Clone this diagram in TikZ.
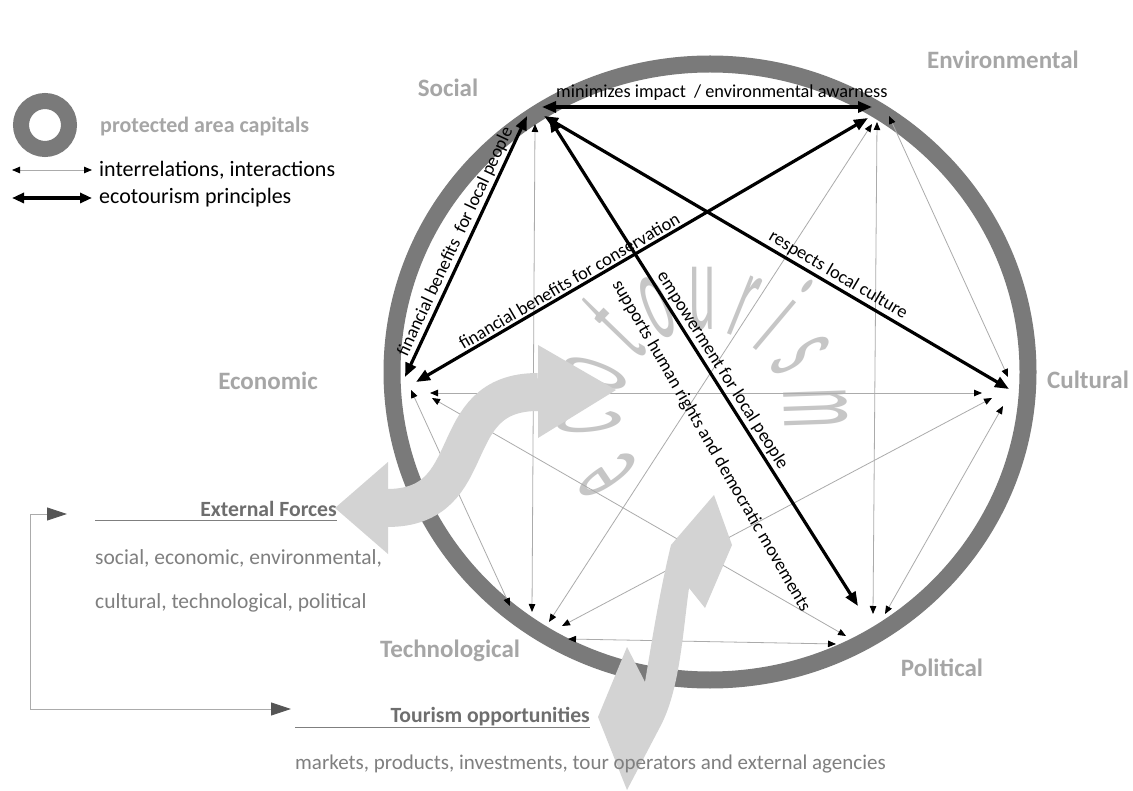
\documentclass[tikz,border=0pt]{standalone}
\usepackage{fontspec}
\setmainfont{Carlito}
\usetikzlibrary{arrows.meta}
\definecolor{ringgray}{HTML}{7A7A7A}
\definecolor{capgray}{HTML}{A6A6A6}
\definecolor{linegray}{HTML}{ABABAB}
\definecolor{bigarrow}{HTML}{D3D3D3}
\definecolor{wmgray}{HTML}{C6C6C6}
\definecolor{txtgray}{HTML}{7F7F7F}
\definecolor{titgray}{HTML}{6E6E6E}
\definecolor{headgray}{HTML}{555555}
\begin{document}
\begin{tikzpicture}[x=1pt,y=-1pt,
  thinrel/.style={draw=linegray, line width=0.8pt,
    {Triangle[length=8pt,width=6.5pt,color=black]}-{Triangle[length=8pt,width=6.5pt,color=black]}},
  thickpr/.style={draw=black, line width=3.2pt,
    {Triangle[length=14pt,width=11pt]}-{Triangle[length=14pt,width=11pt]}},
  capl/.style={font=\fontsize{25}{30}\selectfont\bfseries, text=capgray, inner sep=0pt},
  lbl/.style={font=\fontsize{18.3}{21}\selectfont, inner sep=2pt, sloped},
  legtxt/.style={font=\fontsize{22}{26}\selectfont, inner sep=0pt, anchor=west},
  bodytxt/.style={font=\fontsize{21.5}{26}\selectfont, text=txtgray, inner sep=0pt, anchor=base west},
  titletxt/.style={font=\fontsize{21.7}{26}\selectfont\bfseries, text=titgray, inner sep=0pt, anchor=base east},
  wm/.style={font=\fontsize{90}{100}\selectfont, text=wmgray, inner sep=0pt, anchor=base},
  bracket/.style={draw=linegray, line width=0.9pt,
    {Triangle[length=20pt,width=13pt,color=headgray]}-{Triangle[length=20pt,width=13pt,color=headgray]}}
]
\useasboundingbox (0,0) rectangle (1133,791);
\fill[white] (0,0) rectangle (1133,791);

% watermark "ecotourism" on an arc
\begin{scope}[shift={(702,412)}]
\foreach \ch/\ang [count=\k] in {e/214,c/186,o/160,t/136,o/113,u/90,r/68,i/50,s/30,m/2}
  \node[wm, rotate=\ang-90] (wm\k) at (-\ang:82) {\scalebox{0.55}[1.45]{\ch}};
\end{scope}

% protected area ring
\draw[ringgray, line width=17pt] (710,372) ellipse [x radius=318pt, y radius=308pt];

% endpoints
\coordinate (SE1) at (542,107);  \coordinate (SE2) at (872,107);
\coordinate (SEc1) at (527,116); \coordinate (SEc2) at (405,377);
\coordinate (EEc1) at (868,118); \coordinate (EEc2) at (416,382);
\coordinate (SC1) at (544,116);  \coordinate (SC2) at (1009,389);
\coordinate (SP1) at (549,118);  \coordinate (SP2) at (858,606);
\coordinate (ST1) at (535,124);  \coordinate (ST2) at (532,612);
\coordinate (EP1) at (877,122);  \coordinate (EP2) at (873,614);
\coordinate (EcC1) at (430,393); \coordinate (EcC2) at (982,393);
\coordinate (EC1) at (889,116);  \coordinate (EC2) at (1008,377);
\coordinate (CP1) at (1003,406); \coordinate (CP2) at (885,614);
\coordinate (CT1) at (992,398);  \coordinate (CT2) at (562,626);
\coordinate (ET1) at (872,124);  \coordinate (ET2) at (549,622);
\coordinate (EcP1) at (432,398); \coordinate (EcP2) at (846,636);
\coordinate (EcT1) at (411,390); \coordinate (EcT2) at (510,606);
\coordinate (TP1) at (568,639);  \coordinate (TP2) at (836,644);

% thin interrelations
\draw[thinrel] (ST1) -- (ST2);
\draw[thinrel] (EP1) -- (EP2);
\draw[thinrel] (EcC1) -- (EcC2);
\draw[thinrel] (EC1) -- (EC2);
\draw[thinrel] (CP1) -- (CP2);
\draw[thinrel] (CT1) -- (CT2);
\draw[thinrel] (ET1) -- (ET2);
\draw[thinrel] (EcP1) -- (EcP2);
\draw[thinrel] (EcT1) -- (EcT2);
\draw[thinrel] (TP1) -- (TP2);

% big light arrows
\draw[bigarrow, line width=38pt] (538,392) .. controls (440,392) and (485,508) .. (387,508);
\fill[bigarrow] (538,345) -- (616,390) -- (538,438) -- cycle;
\fill[bigarrow] (388,462) -- (335,508) -- (388,554) -- cycle;
\fill[bigarrow] (714,495) -- (732,545) -- (705,608) -- (689,588)
  .. controls (683,630) and (680,690) .. (660,727) -- (627,790) -- (598,717) -- (627,647) -- (645,682)
  .. controls (652,640) and (660,590) .. (671,545) -- cycle;

% ecotourism principles
\draw[thickpr] (SE1) -- node[lbl, pos=0.545, above=3pt] {minimizes impact\ \ / environmental awarness} (SE2);
\draw[thickpr] (SEc2) -- node[lbl, pos=0.5, above] {financial benefits\ \ for local people} (SEc1);
\draw[thickpr] (EEc2) -- node[lbl, pos=0.35, above] {financial benefits for conservation} (EEc1);
\draw[thickpr] (SC1) -- node[lbl, pos=0.62, above] {respects local culture} (SC2);
\draw[thickpr] (SP1) -- node[lbl, pos=0.53, above] {empowerment for local people} (SP2);
\node[font=\fontsize{18.3}{21}\selectfont, inner sep=0pt, rotate=-60] (hr) at (711,446) {supports human rights and democratic movements};

% capital labels
\node[capl] (social) at (448,88) {Social};
\node[capl] (environmental) at (1003,60) {Environmental};
\node[capl] (economic) at (268,381) {Economic};
\node[capl] (cultural) at (1088,380) {Cultural};
\node[capl] (technological) at (450,651) {Technological};
\node[capl] (political) at (942,668) {Political};

% legend
\draw[ringgray, line width=16pt] (45,125) circle [radius=24pt];
\node[legtxt, font=\fontsize{22}{26}\selectfont\bfseries, text=capgray] (lring) at (100,127) {protected area capitals};
\coordinate (L1a) at (12,170); \coordinate (L1b) at (92,170);
\coordinate (L2a) at (12,198); \coordinate (L2b) at (92,198);
\draw[draw=linegray, line width=0.8pt, {Triangle[length=8pt,width=6.5pt,color=black]}-{Triangle[length=8pt,width=6.5pt,color=black]}] (L1a) -- (L1b);
\draw[draw=black, line width=3.2pt, {Triangle[length=12pt,width=10pt]}-{Triangle[length=12pt,width=10pt]}] (L2a) -- (L2b);
\node[legtxt] (lthin) at (99,170) {interrelations, interactions};
\node[legtxt] (lthick) at (99,198) {ecotourism principles};

% external forces block
\node[titletxt] (ext) at (337,516) {External Forces};
\draw[txtgray, line width=1pt] (95,520) -- (337,520);
\node[bodytxt] (ext1) at (95,564) {social, economic, environmental,};
\node[bodytxt] (ext2) at (95,608) {cultural, technological, political};

% tourism opportunities block
\node[titletxt] (tour) at (590,722) {Tourism opportunities};
\draw[txtgray, line width=1pt] (295,727) -- (590,727);
\node[bodytxt, font=\fontsize{21}{25}\selectfont] (tour1) at (295,769) {markets, products, investments, tour operators and external agencies};

% bracket connector
\coordinate (B1) at (67,514); \coordinate (B2) at (30,514);
\coordinate (B3) at (30,709); \coordinate (B4) at (291,709);
\draw[bracket] (B1) -- (B2) -- (B3) -- (B4);
\end{tikzpicture}
\end{document}
